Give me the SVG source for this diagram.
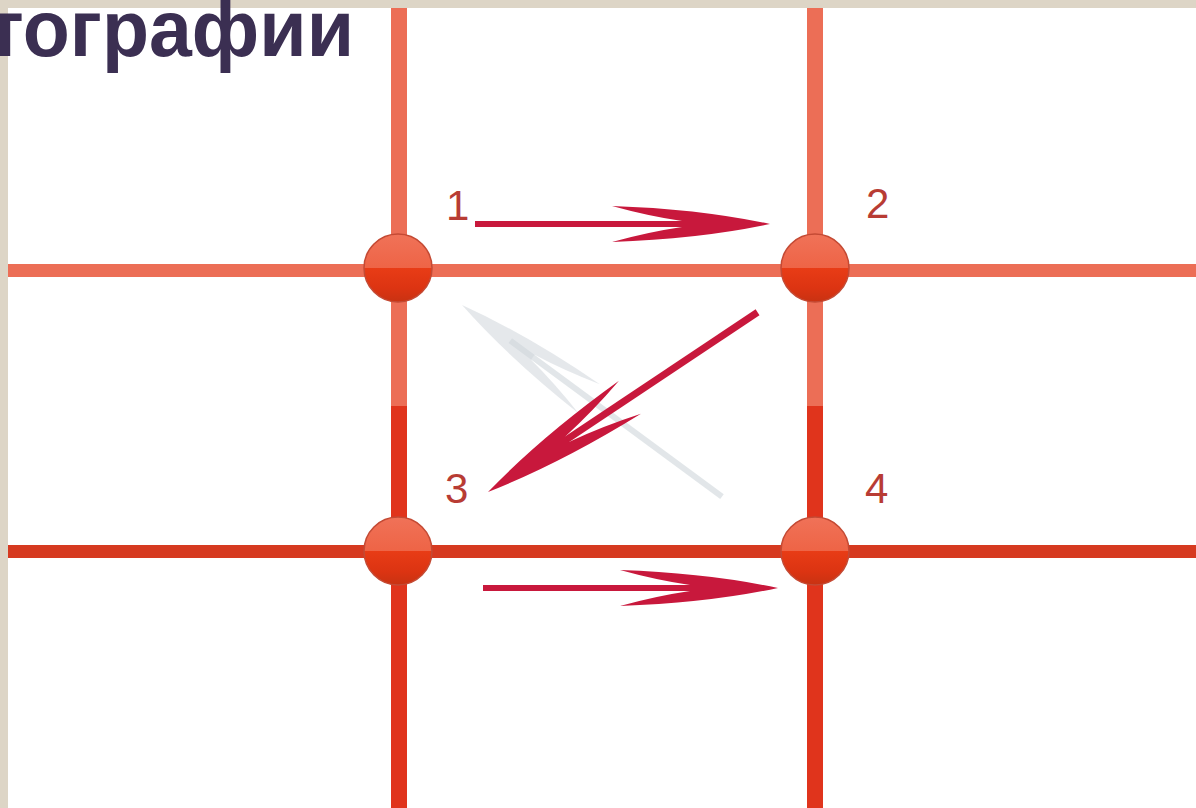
<svg xmlns="http://www.w3.org/2000/svg" width="1196" height="808" viewBox="0 0 1196 808">
<style>
.lineL{fill:#ec6e56}
.lineD{fill:#e0341c}
.lineB{fill:#d63a20}
.num{font-family:"Liberation Sans",Arial,sans-serif;font-size:42px;fill:#b83c34}
.title{font-family:"Liberation Sans",Arial,sans-serif;font-weight:bold;font-size:80px;fill:#3b2f52}
.arrow{fill:#c8183c}
.shaft{stroke:#c8183c;stroke-width:6;stroke-linecap:butt;fill:none}
.ghost{fill:#cfd6da;opacity:0.55}
.ghostshaft{stroke:#cfd6da;stroke-width:6;opacity:0.6;fill:none}
.dot{fill:url(#dotg);stroke:#c44a34;stroke-width:1.5}
</style>
<defs>
<linearGradient id="dotg" x1="0" y1="0" x2="0" y2="1">
<stop offset="0" stop-color="#f07258"/>
<stop offset="0.5" stop-color="#ee6446"/>
<stop offset="0.5" stop-color="#e83c16"/>
<stop offset="0.8" stop-color="#dc3412"/>
<stop offset="1" stop-color="#c83212"/>
</linearGradient>
<path id="head" d="M0 0 Q-70 -15 -158 -18 Q-122 -8 -88 -3 L-88 3 Q-122 8 -158 18 Q-70 15 0 0 Z"/>
</defs>
<rect x="0" y="0" width="1196" height="808" fill="#ddd5c6"/>
<rect x="8" y="8" width="1188" height="800" fill="#ffffff"/>
<text class="title" x="-14" y="56" textLength="368" lengthAdjust="spacingAndGlyphs">тографии</text>
<g id="grid">
<rect class="lineL" x="8" y="264" width="1188" height="13"/>
<rect class="lineB" x="8" y="545" width="1188" height="13"/>
<rect class="lineL" x="391" y="8" width="16" height="398"/>
<rect class="lineD" x="391" y="406" width="16" height="402"/>
<rect class="lineL" x="807" y="8" width="16" height="398"/>
<rect class="lineD" x="807" y="406" width="16" height="402"/>
</g>
<g id="ghost">
<g transform="translate(462,305) rotate(216.4)">
<line class="ghostshaft" x1="-323" y1="0" x2="-60" y2="0"/>
<use href="#head" class="ghost"/>
</g>
</g>
<g id="connectors">
<g transform="translate(770,224)">
<line class="shaft" x1="-295" y1="0" x2="-80" y2="0"/>
<use href="#head" class="arrow"/>
</g>
<g transform="translate(778,588)">
<line class="shaft" x1="-295" y1="0" x2="-80" y2="0"/>
<use href="#head" class="arrow"/>
</g>
<g transform="translate(488,492) rotate(146.3)">
<line class="shaft" x1="-324" y1="0" x2="-80" y2="0" style="stroke-width:7"/>
<use href="#head" class="arrow" transform="scale(1.08,1.1)"/>
</g>
</g>
<g id="node1"><circle class="dot" cx="398" cy="268" r="34"/><text class="num" x="446" y="220">1</text></g>
<g id="node2"><circle class="dot" cx="815" cy="268" r="34"/><text class="num" x="866" y="218">2</text></g>
<g id="node3"><circle class="dot" cx="398" cy="551" r="34"/><text class="num" x="445" y="503">3</text></g>
<g id="node4"><circle class="dot" cx="815" cy="551" r="34"/><text class="num" x="865" y="503">4</text></g>
</svg>
